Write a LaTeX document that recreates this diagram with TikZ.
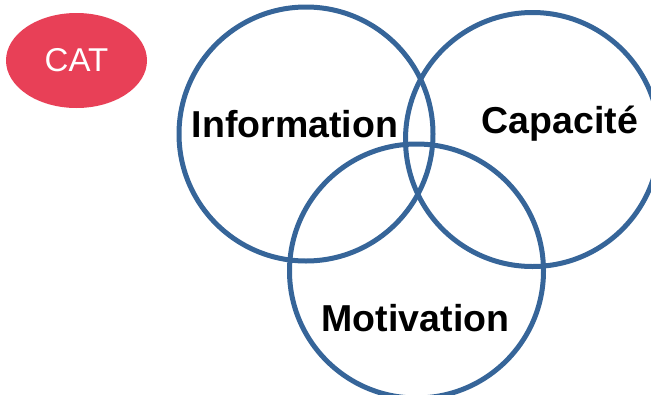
\documentclass[tikz,border=0pt]{standalone}
\usepackage{fontspec}
\setmainfont{Liberation Sans}
\usetikzlibrary{shapes.geometric}
\definecolor{ringblue}{RGB}{54,101,153}
\definecolor{catred}{RGB}{232,64,87}
\begin{document}
\begin{tikzpicture}[x=1pt,y=-1pt,
	ring/.style={circle, draw=ringblue, line width=5pt, minimum size=254pt, inner sep=0pt},
	label/.style={font=\fontsize{37.5}{42}\selectfont\bfseries, text=black, inner sep=0pt}]
	\useasboundingbox (0,0) rectangle (651,394);
	\node[ellipse, fill=catred, minimum width=141pt, minimum height=95pt, inner sep=0pt, text=white, font=\fontsize{33}{36}\selectfont] (cat) at (76.5,60.5) {CAT};
	\node[ring] (info) at (306,134) {};
	\node[ring] (capa) at (532.5,139.5) {};
	\node[ring] (moti) at (416.5,271) {};
	\node[label] (infotext) at (295,124) {Information};
	\node[label] (capatext) at (560,124) {Capacité};
	\node[label] (mototext) at (415.5,318) {Motivation};
\end{tikzpicture}
\end{document}
